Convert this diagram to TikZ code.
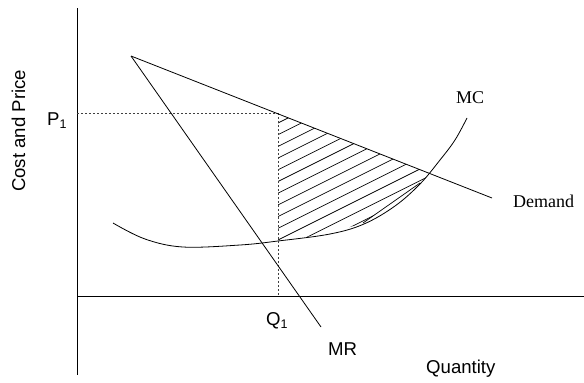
\documentclass[tikz,border=0pt]{standalone}
\usepackage{fontspec}
\setmainfont{Liberation Serif}
\setsansfont{Liberation Sans}
\begin{document}
\begin{tikzpicture}[x=1pt,y=-1pt,
  curve/.style={line width=0.8pt,black},
  guide/.style={line width=0.8pt,black!75,dash pattern=on 2.2pt off 1.8pt},
  hatch/.style={line width=0.7pt,black},
  sanslbl/.style={inner sep=0pt,font=\sffamily\fontsize{18.6}{20}\selectfont},
  seriflbl/.style={inner sep=0pt,font=\rmfamily\fontsize{18}{20}\selectfont}]
\useasboundingbox (0,0) rectangle (584,383);
% axes
\coordinate (ytop) at (77,8);
\coordinate (ybot) at (77,375);
\coordinate (xl) at (77,296);
\coordinate (xr) at (584,296);
\draw[curve] (ytop) -- (ybot);
\draw[curve] (xl) -- (xr);
% demand and MR
\coordinate (apex) at (131,56);
\coordinate (dend) at (492,198);
\coordinate (mrend) at (321,327);
\coordinate (pq) at (278,113.8);
\coordinate (p1) at (77,113.8);
\coordinate (q1) at (278,296);
\coordinate (eq) at (430,173.6);
% hatched area
\begin{scope}
\clip (pq) -- (eq) -- (420,183) -- (363,223) -- (327,234) -- (292,239) -- (278,241) -- cycle;
\foreach \i in {-1,...,13} {
  \draw[hatch] (278,{123+11.7*\i}) -- ++(200,-100);
}
\end{scope}
\draw[hatch] (363,223) -- (420,183);
% MC curve
\draw[curve] plot[smooth,tension=0.6] coordinates {(113,223) (145,239) (183,247) (240,245) (278,241) (330,234) (364,224) (395,206) (420,184) (440,160) (455,140) (467,118)};
% guides
\draw[guide] (p1) -- (pq) -- (q1);
\draw[curve] (apex) -- (dend);
\draw[curve] (apex) -- (mrend);
% labels
\node[sanslbl,rotate=90,anchor=base west] (ylab) at (25,192) {Cost and Price};
\node[sanslbl,anchor=base west] (p1lab) at (47,125) {P\raisebox{-3pt}{\fontsize{12.5}{13}\selectfont 1}};
\node[sanslbl,anchor=base west] (q1lab) at (266,325) {Q\raisebox{-3pt}{\fontsize{12.5}{13}\selectfont 1}};
\node[sanslbl,anchor=base west] (mrlab) at (328,355) {MR};
\node[sanslbl,anchor=base west] (xlab) at (426,373) {Quantity};
\node[seriflbl,anchor=base west] (mclab) at (456,103) {MC};
\node[seriflbl,anchor=base west] (dlab) at (513,207) {Demand};
\end{tikzpicture}
\end{document}
